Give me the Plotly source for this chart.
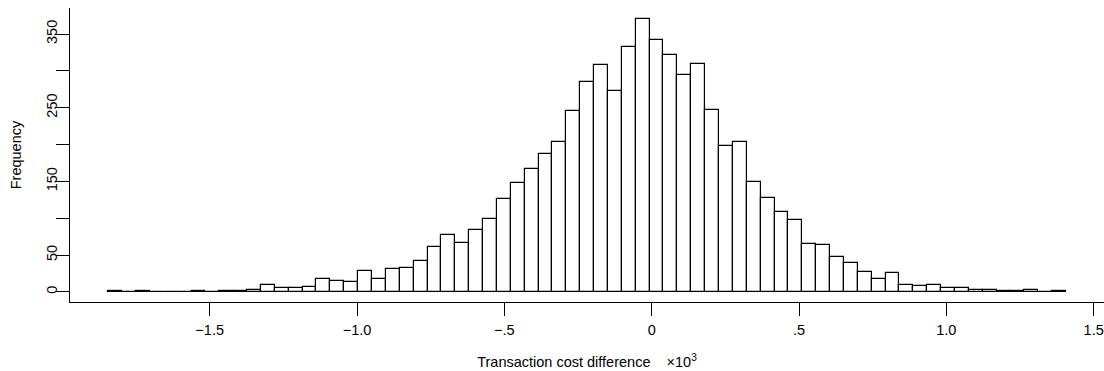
import plotly.graph_objects as go

# Histogram of transaction cost differences (x 10^3)
bin_start = -1.844
bin_width = 0.0471
counts = [1, 0, 1, 0, 0, 0, 1, 0, 2, 1,
          3, 9, 5, 6, 7, 17, 15, 14, 28, 17,
          31, 33, 42, 61, 77, 67, 84, 99, 126, 148,
          167, 187, 203, 246, 285, 308, 273, 333, 370, 342,
          321, 294, 309, 247, 198, 204, 149, 127, 109, 97,
          65, 64, 48, 40, 27, 18, 26, 10, 8, 10,
          6, 5, 3, 3, 2, 1, 3, 0, 1]

x_tickvals = [-1.5, -1.0, -0.5, 0, 0.5, 1.0, 1.5]
x_ticktext = ["\u22121.5", "\u22121.0", "\u2212.5", "0", ".5", "1.0", "1.5"]
y_tickvals = [0, 50, 100, 150, 200, 250, 300, 350]
y_ticktext = ["0", "50", "", "150", "", "250", "", "350"]

centers = [bin_start + bin_width * (i + 0.5) for i in range(len(counts))]

fig = go.Figure(
    go.Bar(
        x=centers,
        y=counts,
        width=bin_width,
        marker=dict(color="white", line=dict(color="black", width=1.2)),
        hoverinfo="skip",
    )
)

family = "Liberation Sans, Arial, Helvetica, sans-serif"
txt = dict(family=family, color="black", size=14.5)

fig.update_layout(
    width=1104,
    height=371,
    margin=dict(l=70, r=0, t=8, b=69),
    paper_bgcolor="white",
    plot_bgcolor="white",
    showlegend=False,
    bargap=0,
    font=txt,
    xaxis=dict(
        range=[-1.974, 1.535],
        tickvals=x_tickvals,
        ticktext=x_ticktext,
        ticks="outside",
        ticklen=13,
        tickwidth=1.3,
        tickcolor="black",
        ticklabelstandoff=1,
        showline=True,
        linecolor="black",
        linewidth=1.3,
        showgrid=False,
        zeroline=False,
        tickfont=txt,
        title=dict(
            text="Transaction cost difference\u00a0\u00a0\u00a0\u00a0\u00d710<sup>3</sup>",
            font=txt,
            standoff=20,
        ),
    ),
    yaxis=dict(
        range=[-13.6, 385.3],
        tickvals=y_tickvals,
        ticktext=y_ticktext,
        ticks="outside",
        ticklen=13,
        tickwidth=1.3,
        tickcolor="black",
        tickangle=-90,
        ticklabelstandoff=-7,
        showline=True,
        linecolor="black",
        linewidth=1.3,
        showgrid=False,
        zeroline=False,
        tickfont=txt,
        title=dict(text="Frequency", font=txt, standoff=18),
    ),
)

fig.write_html("out.html")
